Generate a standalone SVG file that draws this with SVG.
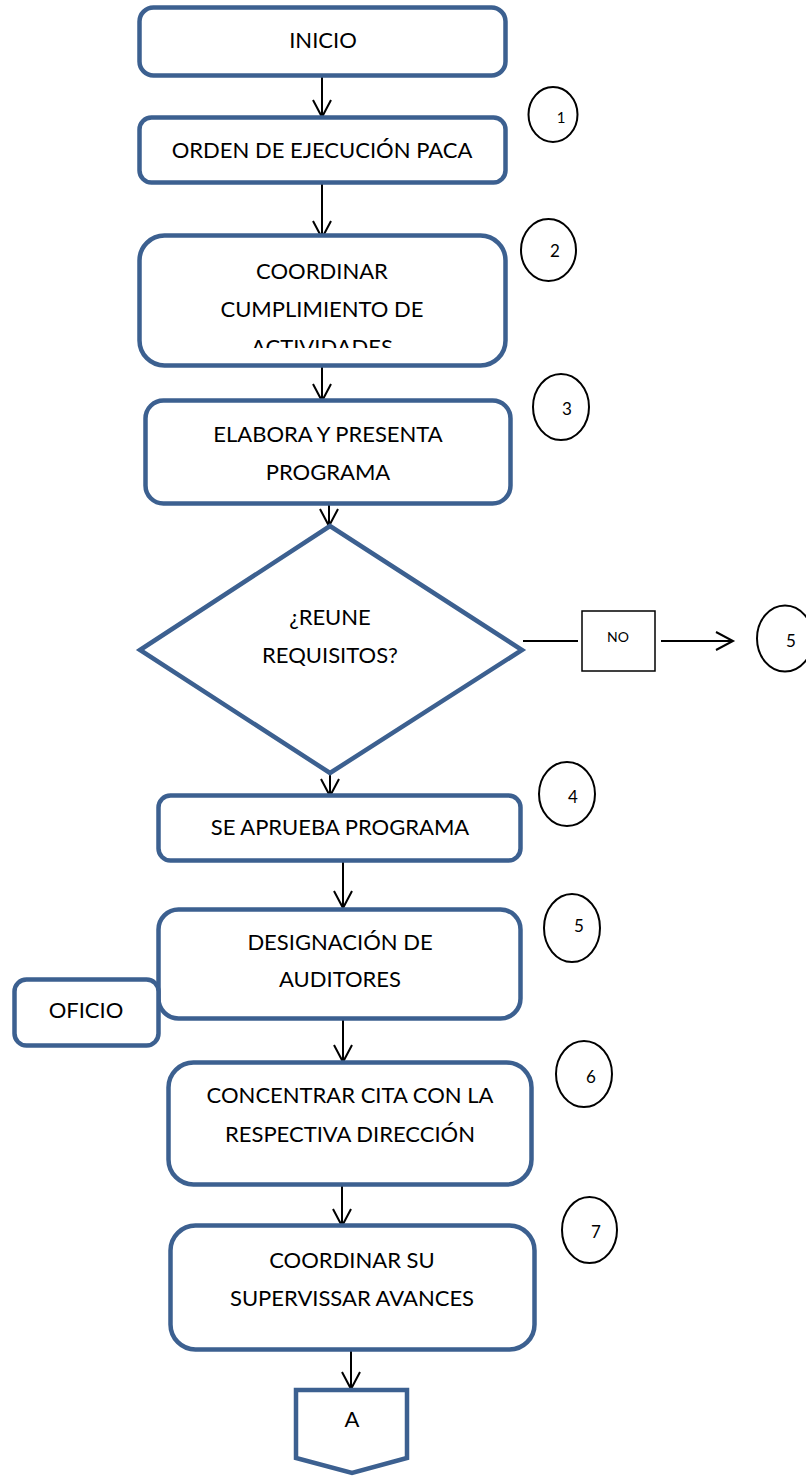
<svg xmlns="http://www.w3.org/2000/svg" width="806" height="1477" viewBox="0 0 806 1477">
  <defs>
    <style>
      .box { fill: #ffffff; stroke: #3C6090; stroke-width: 4.5; }
      .lbl { font-family: Lato, "Liberation Sans", Arial, sans-serif; font-size: 22px; fill: #000000; text-anchor: middle; }
      .num { font-family: Lato, "Liberation Sans", Arial, sans-serif; font-size: 17px; fill: #000000; text-anchor: middle; }
      .step { fill: #ffffff; stroke: #000000; stroke-width: 2; }
      .conn { fill: none; stroke: #000000; stroke-width: 2; }
      .plain { fill: #ffffff; stroke: #000000; stroke-width: 1.5; }
    </style>
    <marker id="arrow" markerUnits="userSpaceOnUse" markerWidth="22" markerHeight="22" viewBox="0 0 22 22" refX="19" refY="11" orient="auto" overflow="visible">
      <path d="M2,2 L19,11 L2,20" fill="none" stroke="#000000" stroke-width="2"/>
    </marker>
    <clipPath id="clip-coord">
      <rect x="140" y="240" width="365" height="108"/>
    </clipPath>
  </defs>

  <!-- connectors -->
  <g id="connectors">
    <line class="conn" x1="322" y1="69" x2="322" y2="117" marker-end="url(#arrow)"/>
    <line class="conn" x1="322" y1="181" x2="322" y2="238" marker-end="url(#arrow)"/>
    <line class="conn" x1="322" y1="358" x2="322" y2="401" marker-end="url(#arrow)"/>
    <line class="conn" x1="329" y1="495" x2="329" y2="526" marker-end="url(#arrow)"/>
    <line class="conn" x1="330" y1="753" x2="330" y2="796" marker-end="url(#arrow)"/>
    <line class="conn" x1="343" y1="856" x2="343" y2="908" marker-end="url(#arrow)"/>
    <line class="conn" x1="343" y1="1010" x2="343" y2="1062" marker-end="url(#arrow)"/>
    <line class="conn" x1="342" y1="1178" x2="342" y2="1226" marker-end="url(#arrow)"/>
    <line class="conn" x1="351" y1="1339" x2="351" y2="1389" marker-end="url(#arrow)"/>
    <line class="conn" x1="523" y1="641" x2="578" y2="641"/>
    <line class="conn" x1="661" y1="641" x2="733" y2="641" marker-end="url(#arrow)"/>
  </g>

  <g id="inicio">
    <rect class="box" x="139.5" y="7.5" width="366" height="68" rx="14"/>
    <text class="lbl" x="323" y="48">INICIO</text>
  </g>

  <g id="orden">
    <rect class="box" x="139.5" y="117.5" width="366" height="65" rx="12"/>
    <text class="lbl" x="322" y="158">ORDEN DE EJECUCIÓN PACA</text>
  </g>

  <g id="coordinar">
    <rect class="box" x="139.5" y="235.5" width="366" height="130" rx="25"/>
    <g clip-path="url(#clip-coord)">
      <text class="lbl" x="322" y="279">COORDINAR</text>
      <text class="lbl" x="322" y="317">CUMPLIMIENTO DE</text>
      <text class="lbl" x="322" y="355">ACTIVIDADES</text>
    </g>
  </g>

  <g id="elabora">
    <rect class="box" x="145.5" y="400.5" width="365" height="103" rx="18"/>
    <text class="lbl" x="328" y="442">ELABORA Y PRESENTA</text>
    <text class="lbl" x="328" y="480">PROGRAMA</text>
  </g>

  <g id="decision">
    <polygon class="box" points="140,650 330,526 522,650 330,773"/>
    <text class="lbl" x="330" y="625">¿REUNE</text>
    <text class="lbl" x="330" y="663">REQUISITOS?</text>
  </g>

  <g id="no-label">
    <rect class="plain" x="582" y="611" width="73" height="60"/>
    <text class="num" x="618" y="642" style="font-size:14px">NO</text>
  </g>

  <g id="aprueba">
    <rect class="box" x="158.5" y="795.5" width="362" height="65" rx="12"/>
    <text class="lbl" x="340" y="835">SE APRUEBA PROGRAMA</text>
  </g>

  <g id="designacion">
    <rect class="box" x="158.5" y="909.5" width="362" height="109" rx="20"/>
    <text class="lbl" x="340" y="950">DESIGNACIÓN DE</text>
    <text class="lbl" x="340" y="987">AUDITORES</text>
  </g>

  <g id="oficio">
    <rect class="box" x="14.5" y="979.5" width="144" height="66" rx="12"/>
    <text class="lbl" x="86" y="1018">OFICIO</text>
  </g>

  <g id="concentrar">
    <rect class="box" x="168.5" y="1062.5" width="363" height="122" rx="25"/>
    <text class="lbl" x="350" y="1103">CONCENTRAR CITA CON LA</text>
    <text class="lbl" x="350" y="1142">RESPECTIVA DIRECCIÓN</text>
  </g>

  <g id="supervisar">
    <rect class="box" x="170.5" y="1225.5" width="364" height="124" rx="25"/>
    <text class="lbl" x="352" y="1268">COORDINAR SU</text>
    <text class="lbl" x="352" y="1306">SUPERVISSAR AVANCES</text>
  </g>

  <g id="conector-a">
    <polygon class="box" points="296,1390 407,1390 407,1458 352,1473 296,1458"/>
    <text class="lbl" x="352" y="1427">A</text>
  </g>

  <!-- step numbers -->
  <g id="paso-1">
    <ellipse class="step" cx="553" cy="114.5" rx="24.5" ry="27.5"/>
    <text class="num" x="561" y="123" style="font-size:15px">1</text>
  </g>
  <g id="paso-2">
    <ellipse class="step" cx="548.5" cy="250" rx="27.5" ry="31"/>
    <text class="num" x="555" y="257">2</text>
  </g>
  <g id="paso-3">
    <ellipse class="step" cx="561" cy="407" rx="28" ry="33"/>
    <text class="num" x="567" y="415">3</text>
  </g>
  <g id="paso-5-no">
    <ellipse class="step" cx="785" cy="638.5" rx="28" ry="33"/>
    <text class="num" x="791" y="647">5</text>
  </g>
  <g id="paso-4">
    <ellipse class="step" cx="567" cy="794" rx="28" ry="32"/>
    <text class="num" x="573" y="803">4</text>
  </g>
  <g id="paso-5">
    <ellipse class="step" cx="572" cy="928" rx="28" ry="34"/>
    <text class="num" x="579" y="932">5</text>
  </g>
  <g id="paso-6">
    <ellipse class="step" cx="584" cy="1074" rx="28" ry="33"/>
    <text class="num" x="591" y="1083">6</text>
  </g>
  <g id="paso-7">
    <ellipse class="step" cx="589.5" cy="1230" rx="27.5" ry="33"/>
    <text class="num" x="596" y="1238">7</text>
  </g>
</svg>
